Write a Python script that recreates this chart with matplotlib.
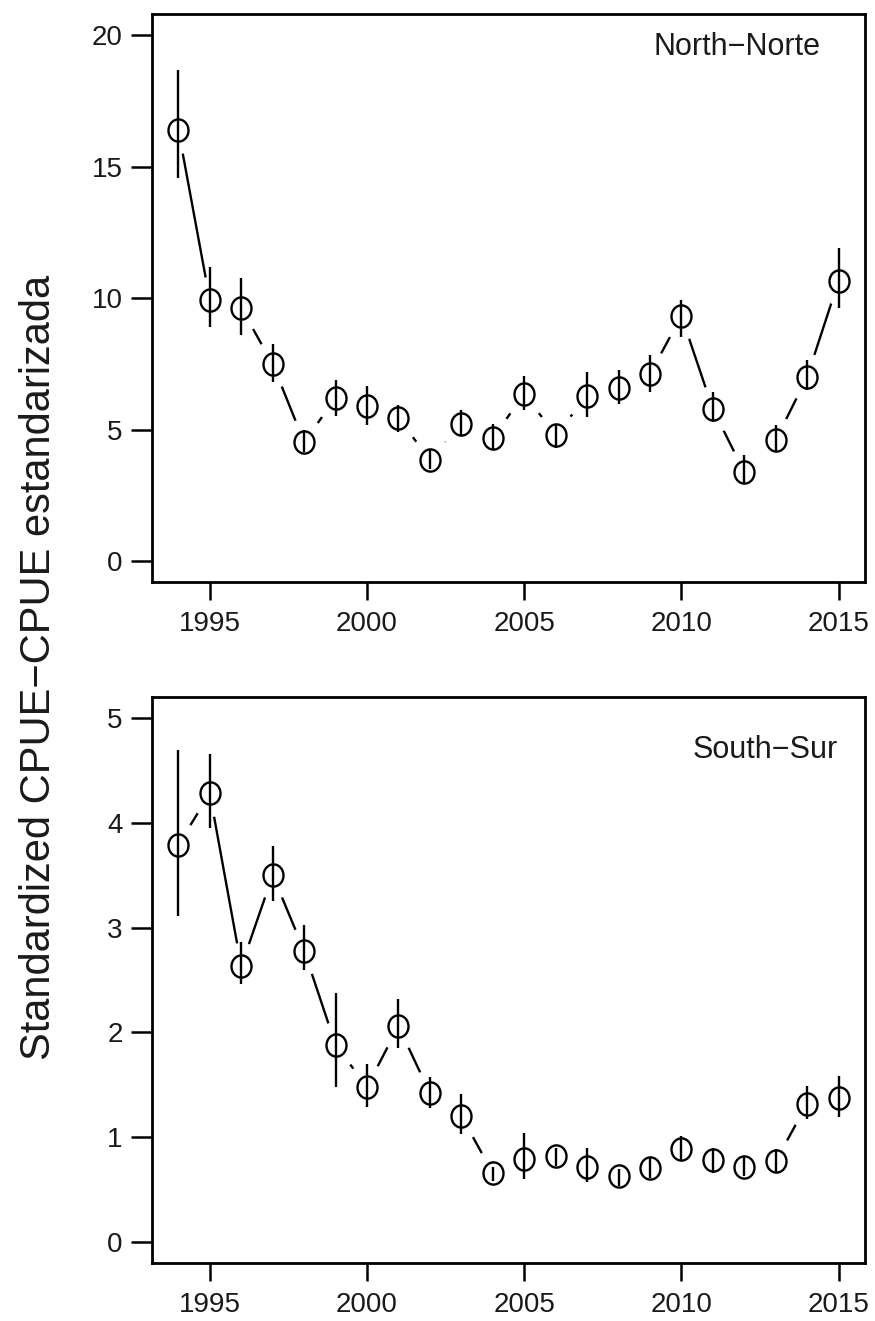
"""Standardized CPUE by year, North and South panels, R-style type='b' points with CI bars."""
import numpy as np
import matplotlib; matplotlib.use("Agg")
import matplotlib.pyplot as plt
from matplotlib.path import Path
from matplotlib.transforms import Affine2D

plt.rcParams["font.family"] = ["Liberation Sans", "DejaVu Sans"]

years = list(range(1994, 2016))

north_mean = [16.39, 9.92, 9.62, 7.49, 4.52, 6.20, 5.89, 5.44, 3.84, 5.21, 4.68,
              6.35, 4.79, 6.27, 6.58, 7.11, 9.32, 5.78, 3.38, 4.60, 7.00, 10.65]
north_lo = [14.56, 8.90, 8.59, 6.81, 4.14, 5.51, 5.17, 4.90, 3.50, 4.75, 4.22,
            5.74, 4.30, 5.48, 5.97, 6.43, 8.52, 5.29, 2.97, 4.14, 6.50, 9.62]
north_hi = [18.67, 11.18, 10.76, 8.25, 4.98, 6.88, 6.65, 5.93, 4.22, 5.74, 5.21,
            7.03, 5.21, 7.19, 7.26, 7.83, 9.92, 6.43, 4.03, 5.17, 7.64, 11.90]

south_mean = [3.79, 4.28, 2.63, 3.50, 2.78, 1.88, 1.48, 2.06, 1.42, 1.20, 0.66,
              0.79, 0.82, 0.72, 0.63, 0.71, 0.89, 0.78, 0.72, 0.77, 1.32, 1.37]
south_lo = [3.11, 3.95, 2.46, 3.25, 2.60, 1.48, 1.29, 1.85, 1.28, 1.03, 0.58,
            0.60, 0.73, 0.57, 0.53, 0.61, 0.77, 0.66, 0.63, 0.67, 1.17, 1.19]
south_hi = [4.69, 4.66, 2.86, 3.78, 3.02, 2.38, 1.70, 2.32, 1.57, 1.41, 0.72,
            1.04, 0.90, 0.90, 0.70, 0.81, 1.01, 0.90, 0.82, 0.89, 1.49, 1.58]

panels = [("North\u2212Norte", north_mean, north_lo, north_hi, 20, [0, 5, 10, 15, 20], (0.937, 0.942)),
          ("South\u2212Sur", south_mean, south_lo, south_hi, 5, [0, 1, 2, 3, 4, 5], (0.962, 0.906))]

ink = "#1a1a1a"
# slightly tall open circle, like the R device output
ellipse = Path.unit_circle().transformed(Affine2D().scale(0.9, 1.0))

fig = plt.figure(figsize=(8.75, 13.21), dpi=100)
boxes = [[0.1737, 0.5594, 0.8149, 0.4300], [0.1737, 0.0439, 0.8149, 0.4285]]

for box, (name, m, lo, hi, ymax, yt, tpos) in zip(boxes, panels):
    ax = fig.add_axes(box)
    ax.plot(years, m, color="black", lw=1.7, zorder=1)
    # white disc leaves the gap round each point (R type="b")
    ax.plot(years, m, ls="none", marker="o", ms=34, mfc="white", mec="none", zorder=1.5)
    ax.vlines(years, lo, hi, color="black", lw=1.7, zorder=3)
    ax.plot(years, m, ls="none", marker=ellipse, ms=16, mfc="none", mec="black", mew=1.7, zorder=4)

    ext = 0.04 * ymax
    ax.set_ylim(-ext, ymax + ext)
    ax.set_xlim(1994 - 0.04 * 21, 2015 + 0.04 * 21)
    ax.set_yticks(yt)
    ax.set_xticks([1995, 2000, 2005, 2010, 2015])
    ax.tick_params(axis="y", length=15, width=1.8, pad=6, labelsize=20, labelcolor=ink)
    ax.tick_params(axis="x", length=13, width=1.8, pad=8, labelsize=20, labelcolor=ink)
    for s in ax.spines.values():
        s.set_linewidth(2)
    ax.text(tpos[0], tpos[1], name, transform=ax.transAxes, ha="right", va="center",
            fontsize=22, color=ink)

fig.text(0.045, 0.495, "Standardized CPUE\u2212CPUE estandarizada", rotation=90,
         ha="center", va="center", fontsize=30, color=ink)

fig.savefig("out.png", dpi=100)
print("-> out.png")
